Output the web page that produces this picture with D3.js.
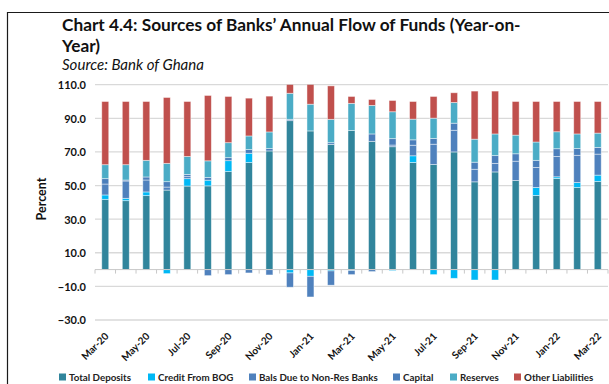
<!DOCTYPE html>
<html>
<head>
<meta charset="utf-8">
<script src="https://cdn.jsdelivr.net/npm/d3@7"></script>
<style>
  html, body { margin: 0; padding: 0; background: #ffffff; }
  svg { display: block; }
</style>
</head>
<body>
<svg id="chart" width="609" height="384"></svg>
<script>
// Monthly periods, Mar-20 to Mar-22
const months = ["Mar-20","Apr-20","May-20","Jun-20","Jul-20","Aug-20","Sep-20","Oct-20","Nov-20","Dec-20",
  "Jan-21","Feb-21","Mar-21","Apr-21","May-21","Jun-21","Jul-21","Aug-21","Sep-21","Oct-21",
  "Nov-21","Dec-21","Jan-22","Feb-22","Mar-22"];
const xTickLabels = ["Mar-20","May-20","Jul-20","Sep-20","Nov-20","Jan-21","Mar-21","May-21",
  "Jul-21","Sep-21","Nov-21","Jan-22","Mar-22"];
const yTicks = [-30, -10, 10, 30, 50, 70, 90, 110];

// Shares of the annual flow of funds (percent)
const totalDeposits    = [41.8,41.0,44.0,47.3,49.7,49.8,58.3,63.7,70.6,88.6,82.5,74.5,82.7,76.3,73.1,63.7,62.5,70.0,52.2,58.1,53.0,44.1,54.2,48.8,52.4];
const creditFromBOG    = [2.6,1.4,2.2,-2.4,4.4,3.4,6.5,5.5,0,-2.0,-4.0,-0.8,-0.6,0,-0.6,4.0,-3.0,-5.2,-6.2,-6.2,0,4.8,1.0,3.0,3.8];
const balsDueNonRes    = [6.5,10.3,7.1,1.8,1.2,-3.6,-3.0,-2.0,-3.2,-8.5,-12.3,-8.5,-2.4,-1.2,1.0,6.3,12.1,12.9,7.5,5.1,11.5,11.9,12.1,16.2,12.5];
const capital          = [3.2,0.6,1.8,3.2,1.3,1.6,1.8,2.2,1.4,0.8,0,1.0,0,4.4,3.8,3.2,3.4,4.2,4.2,4.6,4.4,4.2,4.6,4.0,4.0];
const reserves         = [8.3,9.1,9.9,10.9,10.7,9.9,8.9,8.1,9.9,15.5,15.9,13.9,16.2,17.0,16.0,12.3,12.1,12.3,13.7,12.9,11.1,10.9,10.1,8.7,8.5];
const otherLiabilities = [37.6,37.6,35.0,39.2,32.7,38.9,27.5,22.5,21.3,5.6,17.9,19.9,4.1,3.5,6.7,10.5,12.9,5.8,28.6,25.5,20.0,24.1,18.0,19.3,18.8];

const seriesNames  = ["Total Deposits","Credit From BOG","Bals Due to Non-Res Banks","Capital","Reserves","Other Liabilities"];
const seriesValues = [totalDeposits, creditFromBOG, balsDueNonRes, capital, reserves, otherLiabilities];
const seriesColors = ["#31859C","#00B8F5","#4F81BD","#4A7EBB","#4BACC6","#C0504D"];

const svg = d3.select("#chart");
const FONT = "Lato, 'Open Sans', sans-serif";

// Frame lines
svg.append("line").attr("x1", 7.5).attr("x2", 7.5).attr("y1", 12).attr("y2", 384)
  .attr("stroke", "#1a1a1a").attr("stroke-width", 1.2);
svg.append("line").attr("x1", 7).attr("x2", 609).attr("y1", 12.5).attr("y2", 12.5)
  .attr("stroke", "#1a1a1a").attr("stroke-width", 1.2);

// Scale a text element's font so that it spans the given width
function fitWidth(sel, baseSize, width) {
  const w = sel.node().getComputedTextLength();
  const fs = baseSize * width / w;
  sel.attr("font-size", fs);
  return fs;
}

// Title block
const title1 = svg.append("text").attr("x", 62).attr("y", 31)
  .attr("font-family", FONT).attr("font-weight", 700).attr("font-size", 16).attr("fill", "#111")
  .text("Chart 4.4: Sources of Banks\u2019 Annual Flow of Funds (Year-on-");
const fs1 = fitWidth(title1, 16, 459);
svg.append("text").attr("x", 62).attr("y", 52)
  .attr("font-family", FONT).attr("font-weight", 700).attr("font-size", fs1).attr("fill", "#111")
  .text("Year)");
const sub = svg.append("text").attr("x", 62).attr("y", 70)
  .attr("font-family", FONT).attr("font-style", "italic").attr("font-size", 12.5).attr("fill", "#111")
  .text("Source: Bank of Ghana");
fitWidth(sub, 12.5, 142);

// Scales
const x = d3.scaleBand().domain(months).range([95, 608]).paddingInner(0.66).paddingOuter(0.33);
const y = d3.scaleLinear().domain([-30, 110]).range([320, 84.7]);

// Gridlines
svg.append("g").selectAll("line").data(yTicks).join("line")
  .attr("x1", 95).attr("x2", 608)
  .attr("y1", d => y(d)).attr("y2", d => y(d))
  .attr("stroke", "#d9d9d9").attr("stroke-width", 1.3);

// Y axis labels
const yAxis = svg.append("g").attr("transform", "translate(86,0)")
  .call(d3.axisLeft(y).tickValues(yTicks).tickSize(0).tickPadding(0).tickFormat(d3.format(".1f")));
yAxis.select(".domain").remove();
yAxis.selectAll("text").attr("font-family", FONT).attr("font-weight", 700)
  .attr("font-size", 11).attr("fill", "#111").attr("dy", "0.35em");

svg.append("text").attr("transform", `translate(46,${y(42)}) rotate(-90)`)
  .attr("text-anchor", "middle").attr("font-family", FONT).attr("font-weight", 700)
  .attr("font-size", 12.5).attr("fill", "#111").text("Percent");

// Stacked bars
const rows = months.map((m, i) => {
  const r = { month: m };
  seriesNames.forEach((s, k) => { r[s] = seriesValues[k][i]; });
  return r;
});
const stacked = d3.stack().keys(seriesNames).offset(d3.stackOffsetDiverging)(rows);

svg.append("defs").append("clipPath").attr("id", "plotClip")
  .append("rect").attr("x", 95).attr("y", y(110)).attr("width", 513).attr("height", y(-30) - y(110));

const barsG = svg.append("g").attr("clip-path", "url(#plotClip)");
barsG.selectAll("g").data(stacked).join("g")
  .attr("fill", (d, k) => seriesColors[k])
  .selectAll("rect").data(d => d.filter(p => p[1] !== p[0])).join("rect")
  .attr("x", d => x(d.data.month))
  .attr("width", x.bandwidth())
  .attr("y", d => y(Math.max(d[0], d[1])))
  .attr("height", d => Math.abs(y(d[0]) - y(d[1])))
  .attr("stroke", "rgba(255,255,255,0.55)").attr("stroke-width", 0.8);

// Category axis on the zero line
const xAxisG = svg.append("g");
xAxisG.append("line").attr("x1", 95).attr("x2", 608).attr("y1", y(0)).attr("y2", y(0))
  .attr("stroke", "#c8c8c8").attr("stroke-width", 1);
const boundaries = months.map(m => x(m) - x.step() * x.paddingInner() / 2).concat([608]);
xAxisG.selectAll("line.tk").data(boundaries).join("line").attr("class", "tk")
  .attr("x1", d => d).attr("x2", d => d).attr("y1", y(0)).attr("y2", y(0) + 4)
  .attr("stroke", "#c8c8c8").attr("stroke-width", 1);

svg.append("g").selectAll("text").data(xTickLabels).join("text")
  .attr("transform", d => `translate(${x(d) + x.bandwidth() / 2 + 4},${337}) rotate(-45)`)
  .attr("text-anchor", "end").attr("font-family", FONT).attr("font-weight", 700)
  .attr("font-size", 10).attr("fill", "#111").text(d => d);

// Legend
const legendX = [59, 148, 249, 393, 450, 514];
const lg = svg.append("g").selectAll("g").data(seriesNames).join("g")
  .attr("transform", (d, k) => `translate(${legendX[k]},377)`);
lg.append("rect").attr("x", 0).attr("y", -3.5).attr("width", 7).attr("height", 7)
  .attr("fill", (d, k) => seriesColors[k]);
const lgText = lg.append("text").attr("x", 10).attr("y", 3.5).attr("font-family", FONT).attr("font-weight", 700)
  .attr("font-size", 9).attr("fill", "#222").text(d => d);
// size legend text so the longest entry spans its slot
const longest = lgText.filter((d, k) => k === 2);
const lfs = fitWidth(longest, 9, 119);
lgText.attr("font-size", lfs);
</script>
</body>
</html>
